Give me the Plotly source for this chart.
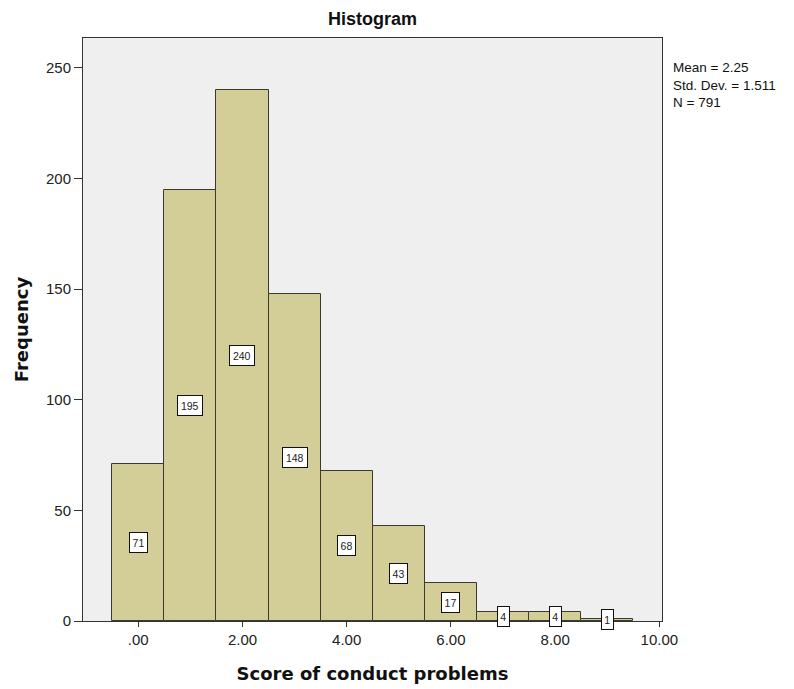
import plotly.graph_objects as go

scores = [0, 1, 2, 3, 4, 5, 6, 7, 8, 9]
counts = [71, 195, 240, 148, 68, 43, 17, 4, 4, 1]
x_tickvals = [0, 2, 4, 6, 8, 10]
x_ticktext = [".00", "2.00", "4.00", "6.00", "8.00", "10.00"]
y_tickvals = [0, 50, 100, 150, 200, 250]
stats_lines = ["Mean = 2.25", "Std. Dev. = 1.511", "N = 791"]

FONT = "Liberation Sans, Arial, sans-serif"
BOLD = "DejaVu Sans, sans-serif"

W, H = 786, 681
ML, MT, MR, MB = 75, 30, 132, 68

fig = go.Figure()
fig.add_trace(go.Bar(
    x=scores, y=counts, width=1,
    marker=dict(color="#D3CE97", line=dict(color="#3a3a30", width=1)),
    hoverinfo="x+y",
))

for s, c in zip(scores, counts):
    fig.add_annotation(
        x=s, y=c / 2, xref="x", yref="y", text=str(c), showarrow=False,
        font=dict(family=FONT, size=10.5, color="#222"),
        bgcolor="white", bordercolor="#111", borderwidth=1, borderpad=2,
        width=6.5 * len(str(c)), height=15,
    )

fig.add_annotation(
    x=1.0, y=1.0, xref="paper", yref="paper", xanchor="left", yanchor="middle",
    xshift=9, yshift=-47, text="<br>".join(stats_lines), showarrow=False,
    align="left", font=dict(family=FONT, size=13.5, color="#111"),
)

fig.update_layout(
    width=W, height=H,
    margin=dict(l=ML, r=MR, t=MT, b=MB, autoexpand=False),
    paper_bgcolor="white", plot_bgcolor="#EFEFEF",
    bargap=0,
    showlegend=False,
    title=dict(text="<b>Histogram</b>", x=364.5 / W, xanchor="center",
               y=1 - 11 / H, yanchor="middle",
               font=dict(family=FONT, size=18, color="#111")),
    font=dict(family=FONT, color="#111"),
)
fig.update_xaxes(
    range=[-1.06, 10.05], tickvals=x_tickvals, ticktext=x_ticktext,
    showgrid=False, zeroline=False, showline=True, mirror=True, automargin=False,
    linecolor="#333", linewidth=1, ticks="outside", ticklen=5, tickcolor="#333",
    tickfont=dict(family=FONT, size=15, color="#222"),
    title=dict(text="<b>Score of conduct problems</b>", standoff=20,
               font=dict(family=BOLD, size=18, color="#111")),
)
fig.update_yaxes(
    range=[0, 263.5], tickvals=y_tickvals,
    showgrid=False, zeroline=False, showline=True, mirror=True, automargin=False,
    linecolor="#333", linewidth=1, ticks="outside", ticklen=8, tickcolor="#333",
    tickfont=dict(family=FONT, size=15, color="#222"),
    title=dict(text="<b>Frequency</b>", standoff=12,
               font=dict(family=BOLD, size=18, color="#111")),
)

fig.write_html("out.html")
